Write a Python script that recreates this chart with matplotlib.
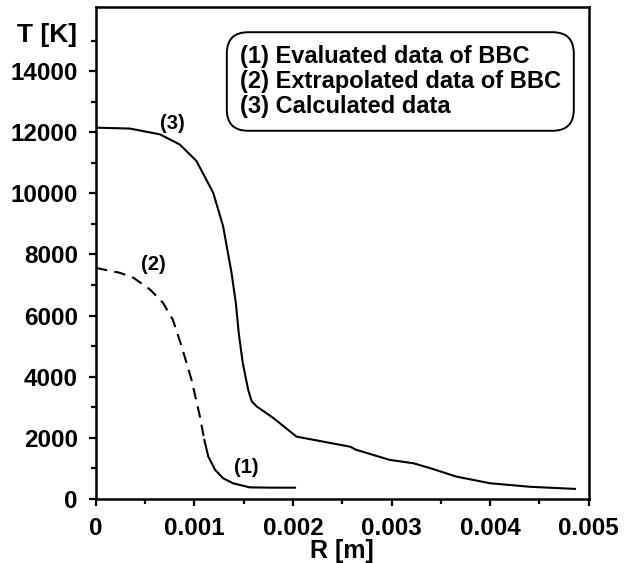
import numpy as np
import matplotlib.pyplot as plt

plt.rcParams['font.family'] = ['Liberation Sans', 'DejaVu Sans']
plt.rcParams['font.weight'] = 'bold'

# (3) calculated data
r_calc = [0.0, 0.000345, 0.00065, 0.00085, 0.00102, 0.00119, 0.00129, 0.001376,
          0.00142, 0.00145, 0.00149, 0.001545, 0.00158, 0.00163, 0.0018, 0.002035,
          0.00235, 0.00258, 0.00264, 0.00298, 0.00322, 0.00339, 0.00366, 0.0040,
          0.0044, 0.00486]
t_calc = [12150, 12120, 11930, 11600, 11060, 10020, 8930, 7400,
          6400, 5400, 4450, 3570, 3200, 3030, 2650, 2040,
          1850, 1710, 1610, 1280, 1170, 1010, 730, 515,
          400, 330]
# (2) extrapolated data of BBC
r_extr = [0.0, 0.000243, 0.00038, 0.00055, 0.00068, 0.00078, 0.00087, 0.00097, 0.001055, 0.0011]
t_extr = [7560, 7400, 7240, 6850, 6420, 5870, 4990, 3900, 2700, 1930]
# (1) evaluated data of BBC
r_eval = [0.0011, 0.00114, 0.00121, 0.00129, 0.00139, 0.00156, 0.0018, 0.00202]
t_eval = [1930, 1390, 950, 680, 515, 380, 370, 370]

legend_text = "(1) Evaluated data of BBC\n(2) Extrapolated data of BBC\n(3) Calculated data"

fig = plt.figure(figsize=(6.31, 5.63), dpi=100)
ax = fig.add_axes([0.152, 0.1137, 0.781, 0.874])

ax.plot(r_calc, t_calc, color='black', lw=1.5)
ax.plot(r_extr, t_extr, color='black', lw=1.5, dashes=(5.5, 3.5))
ax.plot(r_eval, t_eval, color='black', lw=1.5)

ax.text(0.000776, 12280, '(3)', fontsize=14.5, ha='center', va='center')
ax.text(0.000583, 7670, '(2)', fontsize=14.5, ha='center', va='center')
ax.text(0.00153, 1030, '(1)', fontsize=14.5, ha='center', va='center')

ax.text(0.00146, 13660, legend_text, fontsize=17, ha='left', va='center',
        linespacing=1.1,
        bbox=dict(boxstyle='round,pad=0.55,rounding_size=0.9', fc='white', ec='black', lw=1.4))

ax.set_xlim(0, 0.005)
ax.set_ylim(0, 16100)
ax.set_xticks([0, 0.001, 0.002, 0.003, 0.004, 0.005])
ax.set_xticklabels(['0', '0.001', '0.002', '0.003', '0.004', '0.005'])
ax.set_xticks(np.arange(0.0005, 0.005, 0.001), minor=True)
ax.set_yticks(range(0, 14001, 2000))
ax.set_yticks(range(1000, 16000, 2000), minor=True)
ax.tick_params(which='both', direction='out', width=1.6, labelsize=17.5, pad=8)
ax.tick_params(which='major', length=5)
ax.tick_params(which='minor', length=3.5)
for s in ax.spines.values():
    s.set_linewidth(1.8)

ax.set_xlabel('R [m]', fontsize=18, fontweight='bold', labelpad=-1)
fig.text(0.122, 0.937, 'T [K]', fontsize=19, ha='right', va='center', fontweight='bold')

fig.savefig('out.png', dpi=100)
